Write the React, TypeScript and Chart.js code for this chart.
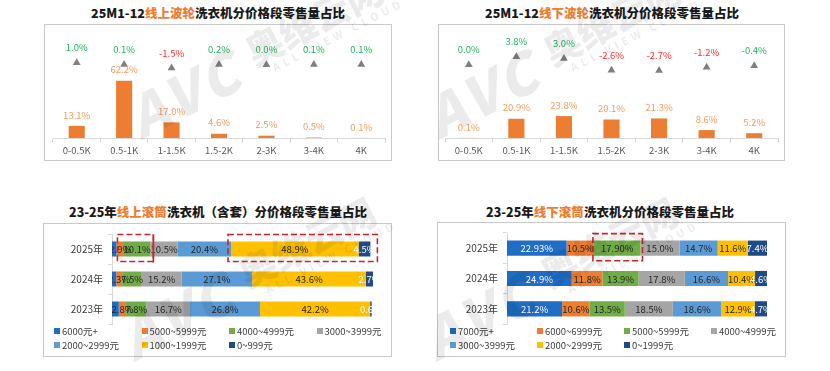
import React, { useEffect, useRef } from 'react';
import { Chart, registerables } from 'chart.js';

Chart.register(...registerables);

const FONT = '"Noto Sans CJK SC", "Noto Sans", sans-serif';

// ---------- data: pulsator (top) ----------
const priceBands = ['0-0.5K', '0.5-1K', '1-1.5K', '1.5-2K', '2-3K', '3-4K', '4K'];
const onlinePulsatorShare = [13.1, 62.2, 17.0, 4.6, 2.5, 0.5, 0.1];
const onlinePulsatorChange = [1.0, 0.1, -1.5, 0.2, 0.0, 0.1, 0.1];
const offlinePulsatorShare = [0.1, 20.9, 23.8, 20.1, 21.3, 8.6, 5.2];
const offlinePulsatorChange = [0.0, 3.8, 3.0, -2.6, -2.7, -1.2, -0.4];

// ---------- data: drum (bottom) ----------
const years = ['2025年', '2024年', '2023年'];

const onlineDrumBands = ['6000元+', '5000~5999元', '4000~4999元', '3000~3999元', '2000~2999元', '1000~1999元', '0~999元'];
const onlineDrum6000Plus = ['1.7', '1.6', '2.6'];
const onlineDrum5000 = ['2.9', '2.3', '2.8'];
const onlineDrum4000 = ['10.1', '7.5', '7.8'];
const onlineDrum3000 = ['10.5', '15.2', '16.7'];
const onlineDrum2000 = ['20.4', '27.1', '26.8'];
const onlineDrum1000 = ['48.9', '43.6', '42.2'];
const onlineDrum0 = ['4.5', '2.7', '0.6'];

const offlineDrumBands = ['7000元+', '6000~6999元', '5000~5999元', '4000~4999元', '3000~3999元', '2000~2999元', '0~1999元'];
const offlineDrum7000Plus = ['22.93', '24.9', '21.2'];
const offlineDrum6000 = ['10.5', '11.8', '10.6'];
const offlineDrum5000 = ['17.90', '13.9', '13.5'];
const offlineDrum4000 = ['15.0', '17.8', '18.5'];
const offlineDrum3000 = ['14.7', '16.6', '18.6'];
const offlineDrum2000 = ['11.6', '10.4', '12.9'];
const offlineDrum0 = ['7.4', '4.6', '4.7'];

const SERIES_COLORS = ['#1F6DC5', '#ED7D31', '#70AD47', '#A5A5A5', '#5B9BD5', '#FFC000', '#1F4A86'];

// ---------- chart factories ----------
function pulsatorConfig(shares: number[], changes: number[], padLeft: number, padRight: number) {
  const labelPlugin = {
    id: 'pulsatorLabels',
    afterDatasetsDraw(chart: any) {
      const ctx = chart.ctx;
      ctx.save();
      ctx.font = `9.5px ${FONT}`;
      ctx.textAlign = 'center';
      ctx.textBaseline = 'middle';
      const barMeta = chart.getDatasetMeta(1);
      barMeta.data.forEach((el: any, i: number) => {
        ctx.fillStyle = '#F29C5E';
        ctx.fillText(shares[i].toFixed(1) + '%', el.x, el.y - 11);
      });
      const lineMeta = chart.getDatasetMeta(0);
      lineMeta.data.forEach((el: any, i: number) => {
        const v = changes[i];
        ctx.fillStyle = v < -0.5 ? '#FF2B2B' : '#22B75E';
        ctx.fillText(v.toFixed(1) + '%', el.x, el.y - 15);
      });
      ctx.restore();
    },
  };
  return {
    type: 'bar',
    data: {
      labels: priceBands,
      datasets: [
        {
          type: 'line',
          data: changes,
          yAxisID: 'y2',
          showLine: false,
          pointStyle: 'triangle',
          pointRadius: 4.5,
          pointBackgroundColor: '#7F7F7F',
          pointBorderColor: '#7F7F7F',
          pointBorderWidth: 0,
        },
        {
          type: 'bar',
          data: shares,
          yAxisID: 'y',
          backgroundColor: '#ED7D31',
          barPercentage: 0.34,
          categoryPercentage: 1,
        },
      ],
    },
    options: {
      animation: false,
      responsive: false,
      events: [],
      layout: { padding: { left: padLeft, right: padRight, top: 22, bottom: 0 } },
      plugins: { legend: { display: false }, tooltip: { enabled: false }, title: { display: false } },
      scales: {
        x: {
          grid: { display: true, offset: true, drawOnChartArea: false, drawTicks: true, tickLength: 5, color: '#D9D9D9' },
          border: { display: true, color: '#D9D9D9', width: 1 },
          ticks: { color: '#595959', font: { family: FONT, size: 9.5 }, padding: 2, maxRotation: 0, autoSkip: false },
          afterFit: (s: any) => { s.height = 23; },
        },
        y: { display: false, min: 0, max: 100 },
        y2: { display: false, min: -35, max: 9 },
      },
    },
    plugins: [labelPlugin],
  };
}

type Annot = { row: number; from: number; to: number; padL: number; padR: number; solidRight?: boolean };

function drumConfig(
  bands: string[],
  series: string[][],
  labelColors: string[],
  hideLabels: boolean[],
  annotations: Annot[],
  axisWidth: number,
  padRight: number,
  padTop: number,
) {
  const labelPlugin = {
    id: 'drumLabels',
    afterDatasetsDraw(chart: any) {
      const ctx = chart.ctx;
      const a = chart.chartArea;
      ctx.save();
      ctx.beginPath();
      ctx.rect(a.left, a.top, a.right - a.left, a.bottom - a.top);
      ctx.clip();
      ctx.font = `9.5px ${FONT}`;
      ctx.textAlign = 'center';
      ctx.textBaseline = 'middle';
      series.forEach((vals, k) => {
        if (hideLabels[k]) return;
        const meta = chart.getDatasetMeta(k);
        meta.data.forEach((el: any, i: number) => {
          ctx.fillStyle = labelColors[k];
          ctx.fillText(vals[i] + '%', (el.x + el.base) / 2, el.y + 0.5);
        });
      });
      ctx.restore();

      ctx.save();
      ctx.strokeStyle = '#C9262C';
      ctx.lineWidth = 1.6;
      annotations.forEach((an) => {
        const first = chart.getDatasetMeta(an.from).data[an.row];
        const last = chart.getDatasetMeta(an.to).data[an.row];
        const x1 = first.base - an.padL;
        const x2 = last.x + an.padR;
        const y1 = first.y - first.height / 2 - 7;
        const y2 = first.y + first.height / 2 + 5;
        ctx.setLineDash([6, 3]);
        ctx.strokeRect(x1, y1, x2 - x1, y2 - y1);
        if (an.solidRight) {
          ctx.setLineDash([]);
          ctx.beginPath();
          ctx.moveTo(x2, y1);
          ctx.lineTo(x2, y2 + 1);
          ctx.stroke();
        }
      });
      ctx.restore();
    },
  };
  return {
    type: 'bar',
    data: {
      labels: years,
      datasets: series.map((vals, k) => ({
        label: bands[k],
        data: vals.map((s) => parseFloat(s)),
        backgroundColor: SERIES_COLORS[k],
        borderWidth: 0,
        barPercentage: 0.5,
        categoryPercentage: 1,
      })),
    },
    options: {
      indexAxis: 'y',
      animation: false,
      responsive: false,
      events: [],
      layout: { padding: { left: 0, right: padRight, top: padTop, bottom: 33 } },
      plugins: { legend: { display: false }, tooltip: { enabled: false } },
      scales: {
        x: { display: false, stacked: true, min: 0, max: 100 },
        y: {
          stacked: true,
          grid: { display: true, offset: true, drawOnChartArea: false, drawTicks: true, tickLength: 4, color: '#D9D9D9' },
          border: { display: true, color: '#D9D9D9', width: 1 },
          ticks: { color: '#404040', font: { family: FONT, size: 10 }, padding: 5 },
          afterFit: (s: any) => { s.width = axisWidth; },
        },
      },
    },
    plugins: [labelPlugin],
  };
}

// ---------- components ----------
function ChartCanvas({ make, left, top, width, height }: { make: () => any; left: number; top: number; width: number; height: number }) {
  const ref = useRef<HTMLCanvasElement>(null);
  useEffect(() => {
    const chart = new Chart(ref.current as HTMLCanvasElement, make());
    return () => chart.destroy();
  }, []);
  return (
    <canvas
      ref={ref}
      width={width}
      height={height}
      style={{ position: 'absolute', left, top, width, height }}
    />
  );
}

function Box({ left, top, width, height }: { left: number; top: number; width: number; height: number }) {
  return (
    <div
      style={{
        position: 'absolute', left, top, width, height, boxSizing: 'border-box',
        border: '1.5px solid #C9C9C9', pointerEvents: 'none',
      }}
    />
  );
}

function Title({ cx, cy, pre, hi, post }: { cx: number; cy: number; pre: string; hi: string; post: string }) {
  return (
    <div
      style={{
        position: 'absolute', left: cx, top: cy, transform: 'translate(-50%, -50%)',
        whiteSpace: 'nowrap', fontFamily: FONT, fontWeight: 900, fontSize: 12.5, color: '#1A1A1A', lineHeight: '16px',
      }}
    >
      {pre}<span style={{ color: '#ED7D31' }}>{hi}</span>{post}
    </div>
  );
}

function Watermark({ x, y }: { x: number; y: number }) {
  return (
    <div
      style={{
        position: 'absolute', left: x, top: y - 54, height: 54, transformOrigin: '0 100%',
        transform: 'rotate(-27deg)', display: 'flex', alignItems: 'flex-end', whiteSpace: 'nowrap',
        color: 'rgba(0,0,0,0.08)', fontFamily: FONT, pointerEvents: 'none',
      }}
    >
      <span style={{ fontSize: 56, fontWeight: 900, fontStyle: 'italic', lineHeight: '52px', letterSpacing: 4 }}>AVC</span>
      <span style={{ display: 'flex', flexDirection: 'column', marginLeft: 14, alignItems: 'flex-start' }}>
        <span style={{ fontSize: 37, fontWeight: 900, lineHeight: '38px' }}>奥维云网</span>
        <span style={{ fontSize: 11, fontWeight: 700, lineHeight: '13px', letterSpacing: 4, marginLeft: 16 }}>ALL VIEW CLOUD</span>
      </span>
    </div>
  );
}

function Legend({ x0, colW, y0, rowH, bands }: { x0: number; colW: number; y0: number; rowH: number; bands: string[] }) {
  return (
    <>
      {bands.map((b, k) => {
        const col = k % 4;
        const row = Math.floor(k / 4);
        return (
          <div
            key={b}
            style={{
              position: 'absolute', left: x0 + col * colW - 3, top: y0 + row * rowH - 7, height: 14,
              display: 'flex', alignItems: 'center', whiteSpace: 'nowrap',
              fontFamily: FONT, fontSize: 9.5, color: '#404040',
            }}
          >
            <span style={{ display: 'inline-block', width: 6, height: 6, background: SERIES_COLORS[k], marginRight: 2 }} />
            {b}
          </div>
        );
      })}
    </>
  );
}

export default function App() {
  const onlineDrum = [onlineDrum6000Plus, onlineDrum5000, onlineDrum4000, onlineDrum3000, onlineDrum2000, onlineDrum1000, onlineDrum0];
  const offlineDrum = [offlineDrum7000Plus, offlineDrum6000, offlineDrum5000, offlineDrum4000, offlineDrum3000, offlineDrum2000, offlineDrum0];
  const dark = '#262626';
  return (
    <div style={{ position: 'absolute', left: 0, top: 0, width: 830, height: 371, background: '#FFFFFF', overflow: 'hidden' }}>
      <Title cx={218} cy={12.5} pre="25M1-12" hi="线上波轮" post="洗衣机分价格段零售量占比" />
      <Title cx={612} cy={12.5} pre="25M1-12" hi="线下波轮" post="洗衣机分价格段零售量占比" />
      <Title cx={218} cy={212} pre="23-25年" hi="线上滚筒" post="洗衣机（含套）分价格段零售量占比" />
      <Title cx={610} cy={212} pre="23-25年" hi="线下滚筒" post="洗衣机分价格段零售量占比" />

      <ChartCanvas left={44} top={24} width={348} height={137}
        make={() => pulsatorConfig(onlinePulsatorShare, onlinePulsatorChange, 9, 7)} />
      <ChartCanvas left={438} top={24} width={347} height={137}
        make={() => pulsatorConfig(offlinePulsatorShare, offlinePulsatorChange, 7, 7)} />

      <ChartCanvas left={43} top={223} width={349} height={134}
        make={() => drumConfig(onlineDrumBands, onlineDrum,
          [dark, dark, dark, dark, dark, dark, '#FFFFFF'],
          [true, false, false, false, false, false, false],
          [{ row: 0, from: 1, to: 2, padL: -1, padR: 3, solidRight: true }, { row: 0, from: 5, to: 6, padL: 3, padR: 7 }],
          69, 19, 5)} />
      <ChartCanvas left={437} top={222} width={349} height={135}
        make={() => drumConfig(offlineDrumBands, offlineDrum,
          ['#FFFFFF', dark, dark, dark, dark, dark, '#FFFFFF'],
          [false, false, false, false, false, false, false],
          [{ row: 0, from: 2, to: 2, padL: 1, padR: 2 }],
          70, 19, 6)} />

      <Legend x0={57} colW={87.5} y0={331} rowH={14} bands={onlineDrumBands} />
      <Legend x0={453} colW={87} y0={331} rowH={14} bands={offlineDrumBands} />

      <Box left={44} top={24} width={348} height={137} />
      <Box left={438} top={24} width={347} height={137} />
      <Box left={43} top={223} width={349} height={134} />
      <Box left={437} top={222} width={349} height={135} />

      <Watermark x={142} y={142} />
      <Watermark x={440} y={142} />
      <Watermark x={135} y={364} />
      <Watermark x={437} y={364} />
    </div>
  );
}
